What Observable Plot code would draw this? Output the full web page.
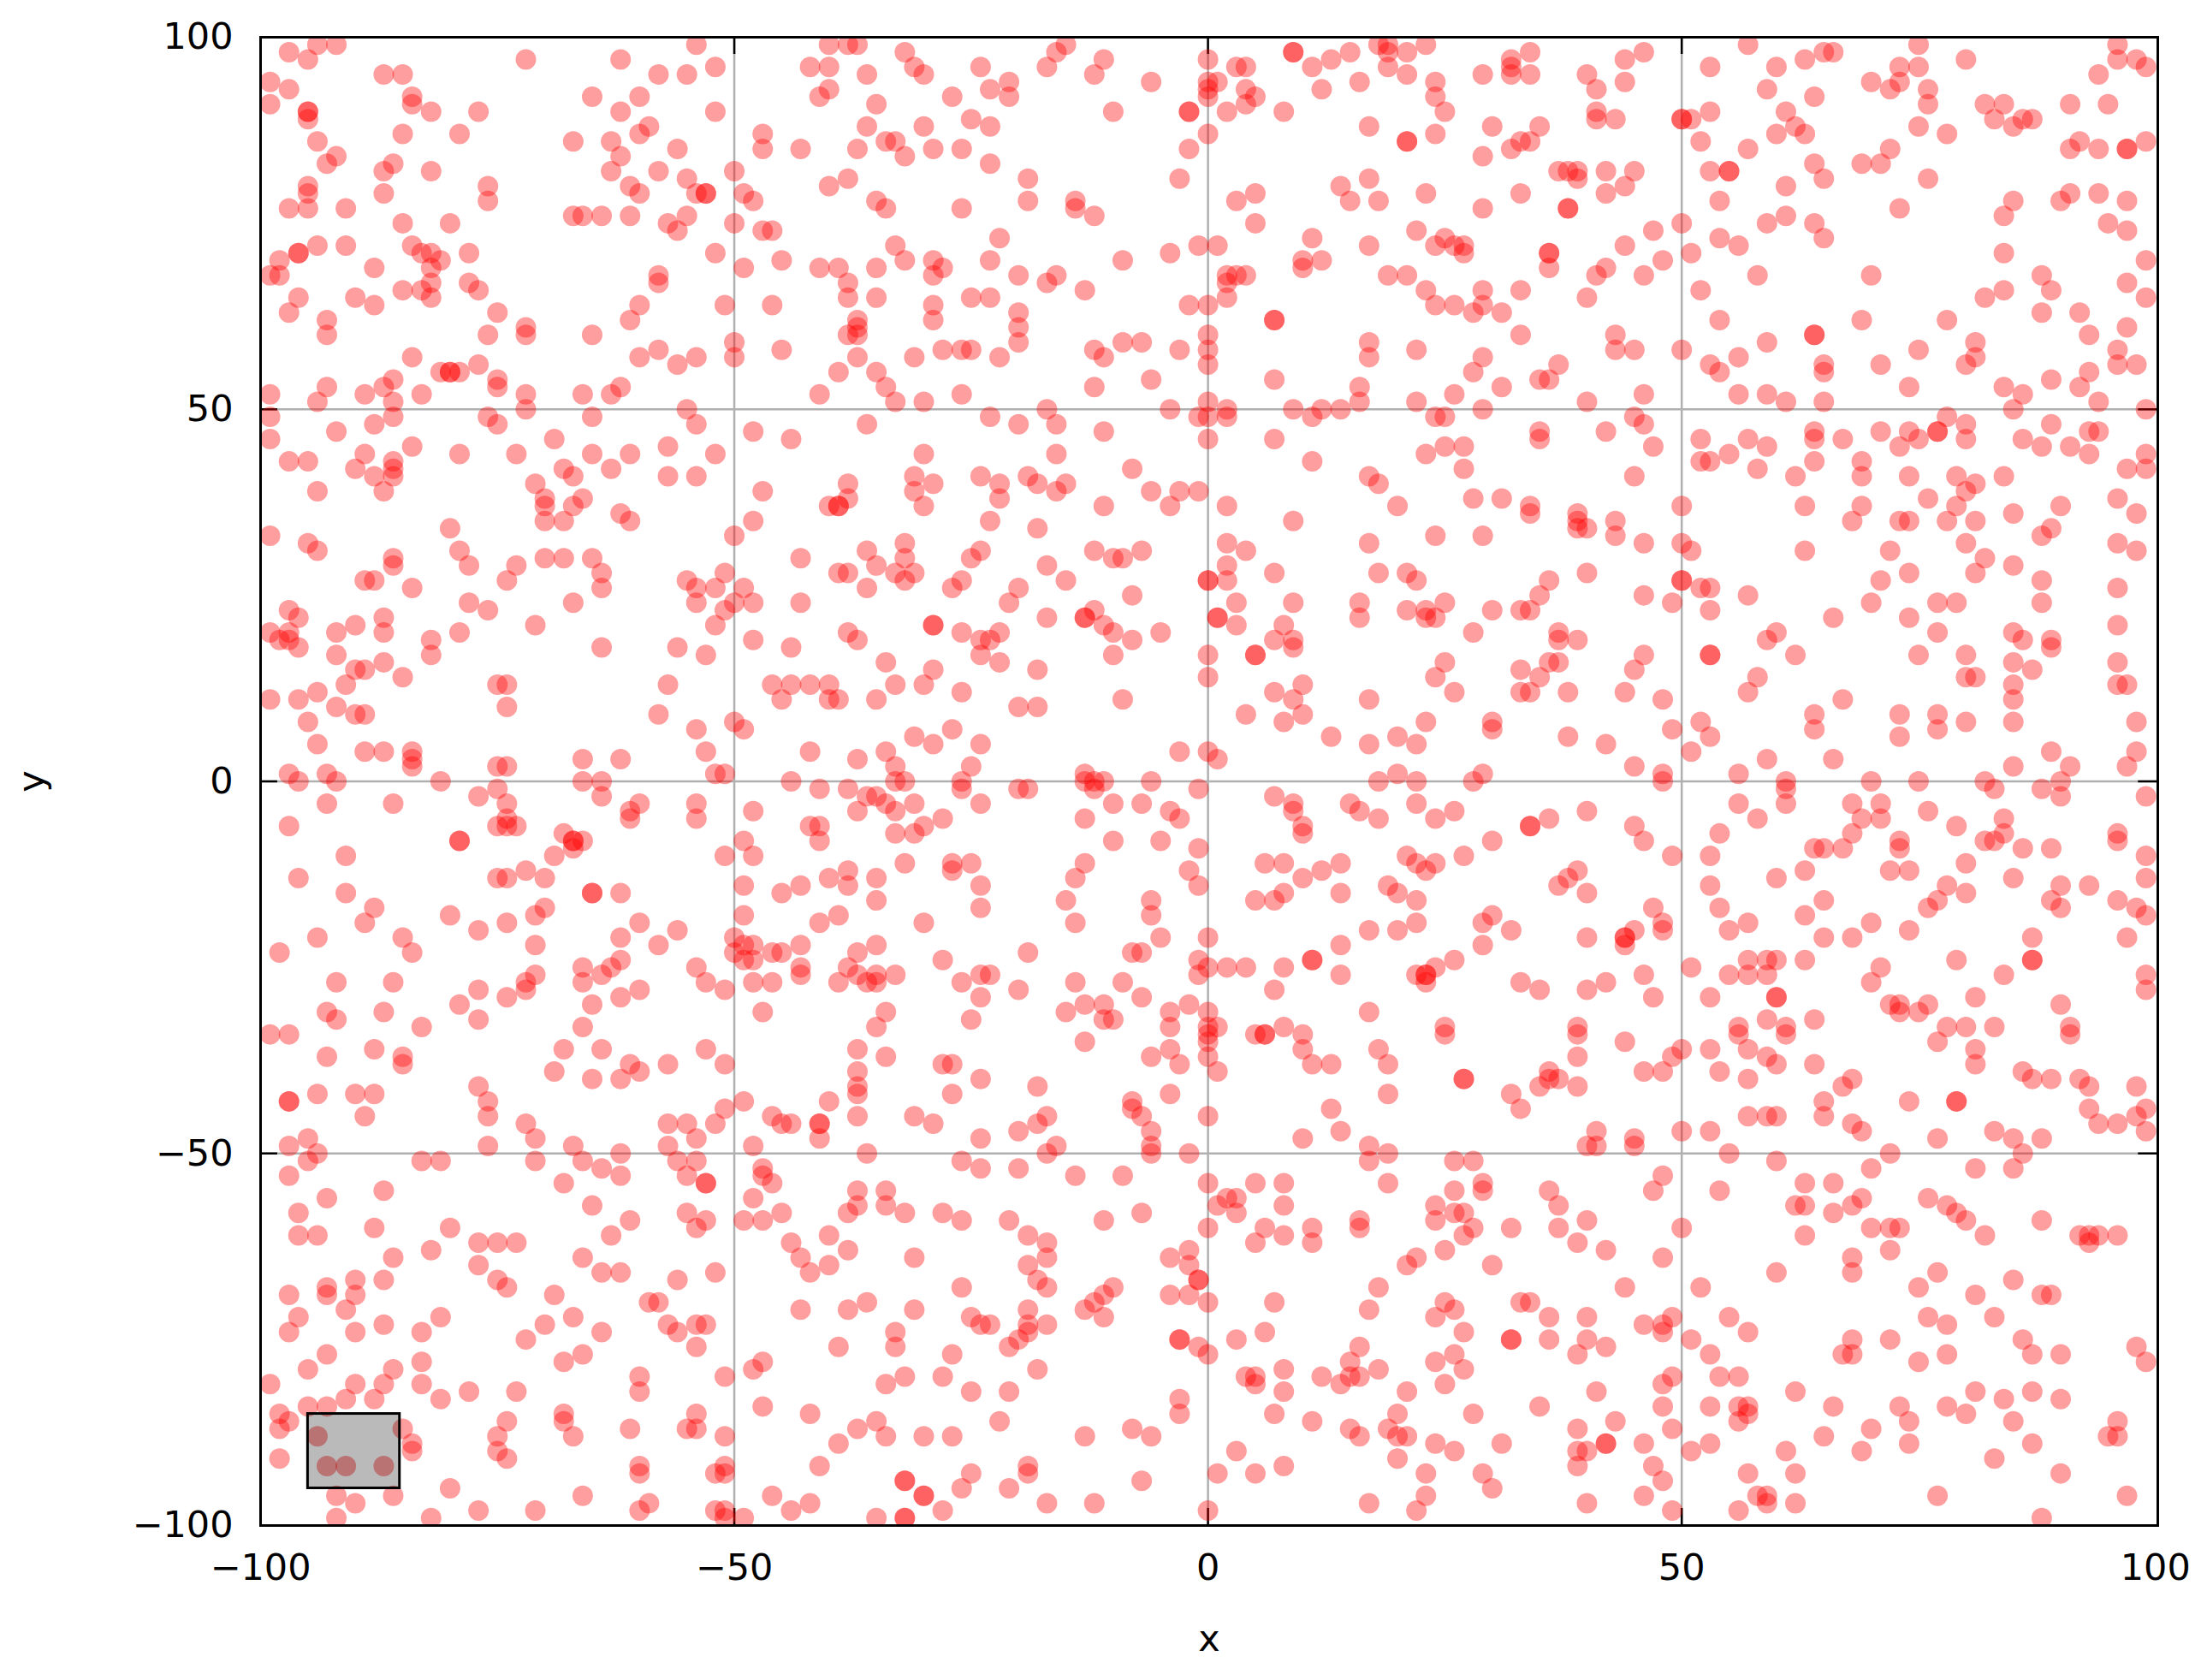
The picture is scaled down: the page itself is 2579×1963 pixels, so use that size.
<!DOCTYPE html>
<html>
<head>
<meta charset="utf-8">
<script src="https://cdn.jsdelivr.net/npm/d3@7"></script>
<script src="https://cdn.jsdelivr.net/npm/@observablehq/plot@0.6"></script>
<style>html,body{margin:0;padding:0;background:#fff}svg{display:block}</style>
</head>
<body>
<div id="chart"></div>
<script>
// x,y pairs, region by region
const topLeft = [-97,98,-94,99,-92,99,-95,97,-72,97,-62,97,-54,99,-40,99,-38,99,-37,99,-87,95,-85,95,-99,94,-97,93,-99,91,-95,90,-95,90,-95,89,-58,95,-55,95,-52,96,-42,96,-40,96,-36,95,-84,92,-84,91,-65,92,-60,92,-82,90,-77,90,-62,90,-52,90,-40,93,-41,92,-35,91,-85,87,-79,87,-94,86,-67,86,-63,86,-60,87,-59,88,-47,87,-47,85,-43,85,-36,88,-37,85,-34,86,-33,86,-56,85,-92,84,-93,83,-86,83,-87,82,-62,84,-63,82,-82,82,-58,82,-50,82,-55,81,-40,80,-38,81,-95,80,-95,79,-95,77,-76,80,-87,79,-76,78,-61,80,-60,79,-54,79,-53,79,-53,79,-49,79,-48,78,-35,78,-97,77,-91,77,-34,77,-67,76,-66,76,-64,76,-61,76,-55,76,-85,75,-80,75,-57,75,-56,74,-50,75,-47,74,-46,74,-94,72,-91,72,-84,72,-96,71,-96,71,-98,70,-83,71,-82,71,-81,70,-78,71,-52,71,-33,72,-45,70,-88,69,-99,68,-98,68,-82,69,-49,69,-41,69,-39,69,-35,69,-58,68,-58,67,-82,67,-78,67,-77,66,-38,67,-85,66,-83,66,-82,65,-96,65,-90,65,-38,65,-35,65,-88,64,-97,63,-75,63,-60,64,-51,64,-46,64,-93,62,-93,60,-61,62,-37,62,-37,61,-37,60,-38,60,-76,60,-72,61,-72,60,-65,60,-50,59,-84,57,-60,57,-58,58,-56,56,-54,57,-50,57,-45,58,-37,57,-77,56,-80,55,-80,55,-81,55,-79,55,-86,54,-75,54,-75,53,-39,55,-35,55,-93,53,-87,53,-62,53,-99,52,-94,51,-89,52,-86,51,-83,52,-72,52,-72,50,-66,52,-63,52,-41,52,-34,53,-55,50,-33,51,-99,49,-86,49,-88,48,-76,49,-75,48,-65,49,-54,48,-92,47,-48,47,-36,48,-99,46,-69,46,-44,46,-89,44,-84,45,-79,44,-73,44,-65,44,-61,44,-57,45,-52,44,-97,43,-95,43,-90,42,-86,43,-86,42,-68,42,-63,42,-88,41,-86,41,-67,41,-57,41,-54,41,-71,40,-38,40,-94,39,-87,39,-47,39,-70,38,-70,37,-66,38,-67,37,-38,38,-40,37,-39,37,-39,37,-62,36,-61,35,-70,35,-68,35,-48,35,-99,33,-80,34,-50,33];
const topMiddle = [-32,98,-31,96,-30,95,-24,96,-21,94,-21,92,-23,93,-27,92,-15,99,-16,98,-17,96,-11,97,-12,95,-6,94,0,97,0,94,0,93,0,92,1,94,3,96,4,96,4,93,5,92,4,91,-2,90,-2,90,-10,90,2,90,8,90,9,98,9,98,11,96,13,97,15,98,18,99,19,99,19,98,19,96,21,98,21,95,23,99,12,93,16,94,24,94,24,92,25,90,29,95,32,97,32,96,32,95,17,88,24,87,21,86,21,86,30,88,32,85,29,84,33,86,-25,89,-23,88,-30,88,-29,85,-26,85,-32,84,-23,83,0,87,-2,85,-3,81,-19,81,14,80,17,81,15,78,18,78,5,79,3,78,-19,78,-26,77,-14,78,-14,77,-12,76,23,79,29,77,33,79,5,75,-22,73,22,74,11,73,25,73,17,72,24,72,-1,72,1,72,-4,71,-9,70,-23,70,-32,70,26,72,27,72,27,71,-29,70,-28,69,-29,68,10,70,10,69,12,70,-20,68,-16,68,-17,67,-13,66,2,68,3,68,4,68,2,67,2,65,19,68,21,68,23,66,29,66,33,66,-25,65,-23,65,-29,64,-29,62,-20,63,-20,61,-20,59,-2,64,0,64,24,64,26,64,28,63,29,64,31,63,7,62,7,62,0,60,-9,59,-7,59,17,59,17,57,33,60,-28,58,-26,58,-25,58,-31,57,-22,57,-12,58,-11,57,-3,58,0,58,0,56,22,58,29,57,-6,54,7,54,28,55,-12,53,16,53,16,51,31,53,-26,52,-30,51,26,52,22,51,0,51,-17,50,-4,50,9,50,12,50,14,50,29,50,-23,49,-20,48,-16,48,-1,49,0,49,2,50,2,49,11,49,24,49,25,49,-11,47,0,46,7,46,25,45,27,45,23,44,-30,44,-16,44,11,43,-8,42,27,42,-31,41,-24,41,-19,41,17,41,-29,40,-22,40,-18,40,-15,40,18,40,-31,39,-16,39,-6,39,-3,39,-1,39,-22,38,28,38,31,38,-30,37,-11,37,-4,37,2,37,20,37,-23,35,-18,34,9,35,24,33];
const topRight = [34,98,34,95,46,98,44,97,40,95,44,94,41,93,41,90,41,89,43,89,35,88,34,86,50,89,50,89,51,89,53,90,53,96,57,99,60,96,59,93,63,97,65,98,66,98,64,92,61,90,62,88,63,87,60,87,52,86,57,85,70,94,72,93,73,96,73,94,75,99,75,96,80,97,76,93,76,91,82,91,84,91,83,89,85,88,86,89,87,89,75,88,78,87,91,91,95,91,94,95,96,99,96,97,98,97,99,96,72,85,71,83,69,83,64,83,65,81,61,80,92,86,91,85,94,85,97,85,97,85,99,86,37,82,38,82,39,82,39,81,42,82,45,82,44,80,42,79,53,82,55,82,55,82,76,81,54,78,38,77,38,77,73,77,91,79,90,78,94,79,97,78,85,78,84,76,47,74,50,75,59,75,61,76,64,75,65,73,95,75,97,74,54,73,56,72,44,72,36,71,36,71,51,71,84,71,48,70,99,70,36,69,42,69,41,68,46,68,58,68,70,68,88,68,89,66,84,66,82,65,97,67,99,65,40,65,52,66,54,62,69,62,78,62,88,63,92,63,64,60,64,60,97,61,93,60,43,60,59,59,81,59,81,57,96,58,96,56,98,56,43,58,45,58,50,58,75,58,56,57,37,56,53,56,54,55,65,56,65,55,71,56,80,56,35,54,36,54,93,55,89,54,92,53,74,53,84,53,86,52,85,50,94,51,40,51,46,52,56,52,59,52,61,51,65,51,99,50,45,49,46,48,78,49,77,47,77,47,80,48,89,48,35,47,35,46,42,47,64,47,64,46,71,47,74,47,75,46,73,45,80,46,93,47,94,47,52,46,57,46,59,45,67,46,86,46,88,45,91,45,47,45,55,44,93,44,99,44,52,43,53,43,64,43,69,43,69,41,58,42,97,42,99,42,45,41,62,41,74,41,79,41,84,41,81,40,80,39,76,38,79,37,50,37,63,37,69,37,90,37,96,38,34,37,34,36,39,36,39,35,39,34,40,34,43,35,43,33,98,36,68,35,73,35,74,35,78,35,81,35,85,36,89,34,88,33];
const midLeft = [-95,32,-94,31,-79,31,-78,29,-86,30,-86,29,-70,30,-68,30,-65,30,-64,28,-64,26,-73,29,-74,27,-43,30,-36,31,-35,29,-39,28,-38,28,-36,26,-33,28,-51,28,-55,27,-54,26,-52,26,-49,26,-54,24,-50,24,-51,23,-48,24,-43,24,-89,27,-88,27,-84,26,-78,24,-76,23,-67,24,-97,23,-96,22,-87,22,-90,21,-71,21,-52,21,-92,20,-87,20,-79,20,-99,20,-98,19,-97,20,-97,19,-96,18,-82,19,-82,17,-64,18,-56,18,-48,19,-53,17,-44,18,-38,20,-37,19,-92,17,-87,16,-90,15,-89,15,-34,16,-85,14,-91,13,-75,13,-74,13,-57,13,-46,13,-44,13,-42,13,-40,13,-45,11,-40,11,-39,11,-35,11,-33,13,-99,11,-96,11,-94,12,-74,10,-92,10,-90,9,-89,9,-95,8,-58,9,-54,7,-50,8,-49,7,-94,5,-89,4,-87,4,-84,4,-84,3,-84,2,-53,4,-42,4,-34,4,-66,3,-62,3,-37,3,-75,2,-74,2,-52,1,-51,1,-97,1,-93,1,-96,0,-92,0,-81,0,-66,0,-64,0,-44,0,-33,2,-33,0,-75,-1,-41,-1,-38,-1,-77,-2,-64,-2,-36,-2,-35,-2,-93,-3,-86,-3,-74,-3,-60,-3,-61,-4,-61,-5,-54,-3,-54,-5,-48,-4,-37,-4,-34,-3,-33,-4,-74,-5,-97,-6,-75,-6,-73,-6,-74,-6,-68,-7,-67,-8,-67,-8,-66,-8,-67,-9,-42,-6,-41,-6,-41,-8,-79,-8,-79,-8,-49,-8,-33,-7,-91,-10,-69,-10,-51,-10,-48,-10,-96,-13,-75,-13,-74,-13,-72,-12,-70,-13,-49,-14,-43,-14,-40,-13,-38,-12,-38,-14,-35,-13,-91,-15,-65,-15,-65,-15,-62,-15,-45,-15,-35,-16,-88,-17,-70,-17,-71,-18,-80,-18,-49,-18,-39,-18,-89,-19,-74,-19,-60,-19,-41,-19,-77,-20,-56,-20,-94,-21,-85,-21,-62,-21,-50,-21,-49,-22,-58,-22,-71,-22,-48,-22,-43,-22,-35,-22,-98,-23,-84,-23,-50,-23,-48,-24,-49,-24,-46,-23,-45,-23,-37,-23,-62,-24,-63,-25,-66,-25,-66,-27,-64,-26,-71,-26,-72,-27,-72,-28,-54,-25,-38,-25,-43,-25,-43,-26,-35,-26,-33,-26,-37,-26,-36,-27,-35,-27,-39,-27,-53,-27,-48,-27,-46,-27,-92,-27,-86,-27,-77,-28,-60,-28,-51,-28,-74,-29,-62,-29,-79,-30,-65,-30,-93,-31,-87,-31,-47,-31,-34,-31,-77,-32,-92,-32,-83,-33,-66,-33,-35,-33];
const midMiddle = [-32,32,-32,30,-32,27,-31,28,-24,31,-25,30,-26,27,-27,26,-20,26,-21,24,-17,29,-15,27,-12,31,-10,30,-9,30,-7,31,-8,25,-17,22,-13,22,-13,22,-12,23,-11,21,-10,20,-8,19,-5,20,-10,17,-29,21,-29,21,-26,20,-24,19,-23,19,-22,20,-24,17,-22,16,-18,15,-29,15,-30,13,-26,12,-20,10,-18,10,-9,11,0,17,0,14,2,32,4,31,2,29,2,27,0,27,0,27,7,28,3,24,1,22,1,22,3,21,9,24,8,21,7,19,9,19,9,18,5,17,5,17,17,32,18,28,21,28,22,27,16,24,16,22,21,23,23,23,24,22,23,22,25,24,29,33,30,23,33,23,28,20,25,16,24,14,33,15,26,12,33,12,10,13,7,12,9,11,17,11,4,9,8,8,10,9,23,8,30,8,30,7,-27,7,-31,6,-29,5,-24,5,-25,2,13,6,17,5,20,6,22,5,-3,4,0,4,1,3,-32,0,-26,0,-26,-1,-20,-1,-19,-1,-13,1,-13,0,-12,-1,-11,0,-12,0,-6,0,-1,-1,18,0,20,1,22,0,28,0,29,1,7,-2,9,-3,9,-4,15,-3,16,-4,18,-5,22,-3,24,-5,26,-4,-24,-3,-10,-3,-7,-3,-4,-4,-3,-5,-31,-3,-28,-5,-13,-5,-30,-6,-31,-7,10,-6,10,-7,-10,-8,-5,-8,-1,-9,30,-8,27,-10,21,-10,22,-11,24,-11,23,-12,-32,-11,-27,-11,-27,-12,-25,-11,-13,-11,-14,-13,-2,-12,-1,-14,6,-11,8,-11,10,-13,12,-12,14,-11,-24,-14,19,-14,20,-15,22,-16,14,-15,5,-16,7,-16,8,-15,-15,-16,-6,-16,-6,-18,-24,-17,-30,-19,-14,-19,30,-18,29,-19,22,-19,17,-20,20,-20,32,-20,-5,-21,0,-21,14,-22,29,-22,-19,-23,-8,-23,-7,-23,-28,-24,11,-24,11,-24,26,-24,-1,-24,0,-25,-1,-26,2,-25,4,-25,8,-25,14,-26,22,-26,23,-26,23,-26,24,-25,23,-27,-26,-27,-24,-26,-23,-26,-14,-27,-9,-27,-20,-28,7,-28,33,-27,-24,-29,-7,-29,-13,-30,-11,-30,-15,-31,-2,-30,-4,-31,-4,-33,0,-31,17,-31,-25,-32,-11,-32,-10,-32,1,-33,0,-33,25,-33];
const midRight = [46,32,50,32,51,31,63,31,72,31,80,32,82,30,81,28,85,29,96,32,98,31,40,28,36,27,35,25,50,27,50,27,52,26,53,26,46,25,57,25,49,24,53,23,71,27,74,28,70,24,74,22,66,22,77,24,79,24,88,27,88,24,96,26,34,23,96,21,37,20,37,19,39,19,60,20,59,19,77,20,85,20,86,19,89,19,89,18,46,17,45,15,53,17,53,17,62,17,75,17,80,17,85,16,87,15,96,16,36,16,37,16,35,14,34,12,58,14,57,12,80,14,81,14,85,13,85,11,96,13,97,13,38,12,44,12,48,11,67,11,64,9,64,7,73,9,73,6,77,9,77,7,80,8,85,8,98,8,52,8,49,7,53,6,38,6,42,5,51,4,59,3,66,3,89,4,91,2,98,4,97,2,85,2,45,2,48,1,48,0,56,1,61,0,61,-1,70,0,75,0,82,0,83,-1,88,-1,90,0,90,-2,99,-2,56,-3,61,-3,58,-5,68,-3,71,-3,71,-5,69,-5,76,-4,40,-4,36,-5,34,-6,34,-6,45,-6,46,-8,54,-7,68,-7,79,-6,84,-5,84,-7,82,-8,83,-8,96,-7,96,-8,73,-8,73,-9,64,-9,65,-9,67,-9,86,-9,89,-9,49,-10,53,-10,99,-10,80,-11,39,-12,38,-13,37,-14,63,-12,60,-13,72,-12,74,-12,85,-13,99,-13,40,-15,53,-14,78,-14,77,-16,76,-17,80,-15,90,-14,89,-16,90,-17,93,-14,96,-16,98,-17,99,-18,47,-17,54,-17,65,-16,63,-18,48,-19,48,-20,57,-19,70,-19,45,-20,44,-21,44,-21,44,-22,55,-20,40,-21,65,-21,68,-21,74,-20,87,-21,97,-21,57,-24,59,-24,60,-24,63,-24,79,-24,87,-24,87,-24,51,-25,71,-25,70,-27,55,-26,57,-26,59,-26,46,-26,42,-27,40,-28,84,-26,99,-26,99,-28,35,-28,47,-29,53,-29,60,-29,60,-29,81,-29,72,-30,73,-30,73,-31,76,-30,75,-31,90,-30,59,-32,64,-32,78,-33,80,-33,83,-33,39,-33,56,-33,61,-33,91,-33];
const lowLeft = [-99,-34,-97,-34,-88,-36,-93,-37,-85,-37,-85,-38,-68,-36,-64,-36,-53,-36,-37,-36,-51,-38,-34,-37,-69,-39,-65,-40,-61,-38,-60,-39,-62,-40,-57,-38,-37,-39,-37,-41,-37,-42,-77,-41,-76,-43,-76,-45,-97,-43,-97,-43,-94,-42,-90,-42,-88,-42,-89,-45,-51,-44,-49,-43,-40,-43,-37,-45,-46,-45,-45,-46,-44,-46,-41,-46,-41,-46,-41,-48,-72,-46,-71,-48,-57,-46,-55,-46,-54,-48,-52,-46,-95,-48,-97,-49,-94,-50,-95,-51,-76,-49,-57,-49,-48,-49,-67,-49,-62,-50,-36,-50,-83,-51,-81,-51,-71,-51,-66,-51,-56,-51,-54,-51,-64,-52,-62,-53,-55,-53,-97,-53,-47,-52,-47,-53,-46,-54,-53,-54,-53,-54,-68,-54,-37,-55,-37,-57,-34,-55,-34,-57,-93,-56,-87,-55,-48,-56,-65,-57,-55,-58,-53,-59,-54,-60,-96,-58,-49,-59,-47,-59,-45,-58,-38,-58,-61,-59,-88,-60,-80,-60,-96,-61,-94,-61,-63,-61,-40,-61,-77,-62,-75,-62,-73,-62,-44,-62,-82,-63,-38,-63,-86,-64,-66,-64,-43,-64,-77,-65,-40,-65,-64,-66,-62,-66,-52,-66,-42,-66,-75,-67,-74,-68,-90,-67,-90,-69,-87,-67,-56,-67,-93,-68,-93,-69,-97,-69,-69,-69,-59,-70,-58,-70,-43,-71,-38,-71,-36,-70,-91,-71,-96,-72,-97,-74,-81,-72,-67,-72,-70,-73,-57,-73,-56,-74,-54,-73,-53,-73,-87,-73,-90,-74,-83,-74,-64,-74,-33,-74,-33,-76,-72,-75,-54,-76,-39,-76,-93,-77,-66,-77,-68,-78,-95,-79,-86,-79,-83,-78,-48,-79,-47,-78,-60,-80,-60,-82,-99,-81,-90,-81,-87,-81,-83,-81,-51,-80,-34,-81,-91,-83,-88,-83,-81,-83,-78,-82,-73,-82,-95,-84,-93,-84,-47,-84,-54,-85,-42,-85,-98,-85,-68,-85,-68,-86,-74,-86,-97,-86,-35,-86,-37,-87,-34,-88,-98,-87,-85,-87,-75,-88,-67,-88,-61,-87,-55,-87,-54,-87,-51,-88,-94,-88,-84,-89,-84,-90,-39,-89,-75,-90,-74,-91,-98,-91,-93,-92,-91,-92,-87,-92,-60,-92,-60,-93,-51,-92,-51,-93,-52,-93,-41,-92,-80,-95,-92,-96,-86,-96,-66,-96,-46,-96,-59,-97,-60,-98,-90,-97,-42,-97,-77,-98,-71,-98,-44,-98,-52,-98,-51,-98,-51,-99,-92,-99,-82,-99,-49,-99,-35,-99];
const lowMiddle = [-13,-35,-4,-36,-6,-37,-3,-38,0,-34,0,-35,0,-37,1,-39,5,-34,6,-34,6,-34,8,-33,10,-34,10,-36,11,-38,13,-38,18,-36,19,-38,25,-34,27,-40,27,-40,-28,-38,-27,-38,-24,-40,-18,-41,-27,-42,-8,-43,-8,-44,-7,-45,-6,-47,-4,-42,19,-42,32,-42,13,-44,33,-44,0,-45,-31,-45,-29,-46,-17,-45,-18,-46,-20,-47,-24,-48,14,-47,10,-48,17,-49,19,-50,17,-51,-6,-49,-6,-50,-2,-50,-16,-49,-17,-50,-26,-51,-24,-52,-20,-52,26,-51,28,-51,-14,-53,-9,-53,0,-54,5,-54,8,-54,19,-54,29,-54,29,-55,26,-55,2,-56,3,-56,1,-57,3,-58,8,-57,24,-57,24,-59,-32,-58,-28,-58,-26,-59,-21,-59,-11,-59,-7,-58,26,-58,27,-58,28,-60,27,-61,16,-59,16,-60,0,-60,6,-60,8,-61,5,-62,11,-60,11,-62,32,-60,-19,-61,-17,-62,-2,-63,-4,-64,-2,-65,-17,-64,-19,-65,-31,-64,25,-63,22,-64,21,-65,30,-65,-1,-67,-1,-67,-18,-67,-17,-68,-26,-68,-10,-68,-11,-69,-12,-70,-13,-71,-11,-72,-4,-69,-2,-69,0,-70,18,-68,7,-70,17,-71,25,-70,26,-71,24,-72,33,-70,-31,-71,-19,-71,-19,-73,-19,-74,-25,-72,-24,-73,-23,-73,-17,-73,-20,-75,-21,-76,6,-74,3,-75,27,-74,-3,-75,-3,-75,32,-75,32,-75,-1,-76,0,-77,16,-76,-27,-77,24,-78,26,-77,27,-79,-18,-79,15,-78,15,-80,16,-80,14,-81,18,-79,8,-79,12,-80,4,-80,5,-80,5,-81,-32,-80,-28,-80,25,-81,-25,-82,-21,-82,8,-82,21,-82,-3,-83,-3,-85,7,-85,20,-85,28,-85,11,-86,-22,-86,15,-87,16,-88,19,-87,20,-88,21,-88,-8,-87,-6,-88,-30,-88,-27,-88,-13,-88,24,-89,26,-90,31,-89,3,-90,20,-91,-19,-92,-19,-93,8,-92,1,-93,5,-93,-25,-93,-26,-95,23,-93,29,-93,30,-95,-32,-94,-32,-94,-7,-94,-21,-95,-30,-96,-30,-96,23,-96,22,-98,-17,-97,-12,-97,17,-97,-28,-98,0,-98,-32,-99,-32,-99];
const lowRight = [39,-34,44,-35,39,-37,50,-36,49,-37,46,-39,48,-39,53,-36,56,-34,57,-36,59,-37,60,-38,61,-34,54,-39,57,-40,64,-38,68,-40,67,-41,36,-39,36,-40,35,-41,37,-40,39,-41,77,-35,81,-36,81,-38,91,-34,86,-39,87,-40,89,-40,92,-40,93,-41,98,-41,74,-43,79,-43,79,-43,65,-43,65,-45,57,-45,59,-45,60,-45,93,-44,98,-45,99,-44,94,-46,96,-46,99,-47,68,-46,69,-47,41,-47,50,-47,53,-47,45,-48,45,-49,40,-49,41,-49,77,-48,83,-47,85,-48,88,-48,55,-50,72,-50,86,-50,60,-51,70,-52,81,-52,85,-52,48,-53,63,-54,66,-54,36,-55,37,-57,47,-55,54,-55,69,-56,68,-57,66,-58,76,-56,78,-57,79,-58,80,-59,62,-57,63,-57,40,-59,37,-60,50,-60,70,-60,72,-60,73,-60,88,-59,82,-61,92,-61,94,-61,96,-61,93,-62,93,-61,39,-62,42,-63,63,-61,72,-63,48,-64,68,-64,68,-66,60,-66,77,-66,75,-68,44,-68,52,-68,85,-67,81,-69,88,-69,89,-69,34,-70,36,-72,40,-72,49,-72,48,-73,46,-73,48,-74,55,-72,57,-74,76,-72,78,-73,83,-72,36,-75,40,-75,42,-76,39,-77,51,-75,53,-77,68,-75,67,-77,68,-77,72,-75,86,-75,87,-77,90,-77,98,-76,99,-78,75,-78,78,-77,49,-80,48,-81,54,-80,56,-80,41,-82,62,-82,81,-82,84,-83,87,-82,90,-83,35,-84,48,-84,53,-84,56,-84,57,-84,57,-85,56,-86,66,-84,73,-84,74,-86,78,-84,80,-85,85,-86,39,-87,43,-86,49,-87,65,-88,70,-87,96,-86,96,-88,95,-88,39,-90,40,-90,39,-92,42,-89,42,-89,46,-89,51,-90,53,-89,61,-90,69,-90,74,-89,87,-89,83,-91,47,-92,48,-94,57,-93,62,-93,90,-93,46,-96,40,-97,77,-96,58,-96,59,-96,59,-97,62,-97,97,-96,56,-98,49,-98,88,-99];

const axisTicks = [-100, -50, 0, 50, 100];
const gridTicks = [-50, 0, 50];
const box = [{x1: -95, x2: -85.3, y1: -95, y2: -85}];

const flat = [topLeft, topMiddle, topRight, midLeft, midMiddle, midRight, lowLeft, lowMiddle, lowRight].flat();
const points = d3.range(0, flat.length, 2).map(i => ({x: flat[i], y: flat[i + 1]}));

const font = {fontFamily: "DejaVu Sans", fontSize: 43, color: "#000"};
const chart = Plot.plot({
  width: 2579, height: 1963,
  marginLeft: 304, marginRight: 58, marginTop: 43, marginBottom: 181,
  style: {...font, background: "#fff", overflow: "visible"},
  x: {domain: [-100, 100.25], label: "x"},
  y: {domain: [-100, 100], label: "y"},
  marks: [
    Plot.ruleX(gridTicks, {stroke: "#b0b0b0", strokeWidth: 2.5}),
    Plot.ruleY(gridTicks, {stroke: "#b0b0b0", strokeWidth: 2.5}),
    Plot.ruleX(gridTicks, {y1: -100, y2: -97.7, stroke: "#000", strokeWidth: 2.5}),
    Plot.ruleX(gridTicks, {y1: 97.7, y2: 100, stroke: "#000", strokeWidth: 2.5}),
    Plot.ruleY(gridTicks, {x1: -100, x2: -98.2, stroke: "#000", strokeWidth: 2.5}),
    Plot.ruleY(gridTicks, {x1: 98.2, x2: 100.25, stroke: "#000", strokeWidth: 2.5}),
    Plot.dot(points, {x: "x", y: "y", r: 12, fill: "#f00", fillOpacity: 0.38, stroke: "none", clip: true}),
    Plot.rect(box, {x1: "x1", x2: "x2", y1: "y1", y2: "y2", fill: "#000", fillOpacity: 0.27, stroke: "#000", strokeWidth: 3}),
    Plot.frame({stroke: "#000", strokeWidth: 3}),
    Plot.axisX({ticks: axisTicks, tickSize: 0, tickPadding: 33, fontSize: 43, label: "x", labelAnchor: "center", labelArrow: "none", labelOffset: 146}),
    Plot.axisY({ticks: axisTicks, tickSize: 0, tickPadding: 32, fontSize: 43, label: "y", labelAnchor: "center", labelArrow: "none", labelOffset: 284})
  ]
});
document.getElementById("chart").append(chart);
</script>
</body>
</html>
